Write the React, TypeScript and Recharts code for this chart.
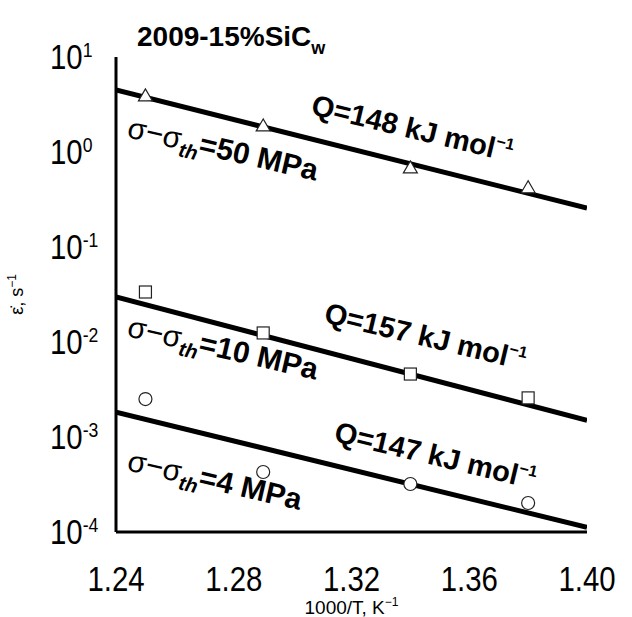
import React from 'react';
import { ComposedChart, Scatter, XAxis, YAxis, Customized } from 'recharts';

const FONT = '"Liberation Sans", Arial, Helvetica, sans-serif';
// Tick numerals use a horizontally condensed Helvetica-like face
const TICK_SQUEEZE = 0.84;

// Inverse temperature (1000/T, K^-1) of the measurements
const invTemp = [1.25, 1.29, 1.34, 1.38];
// Strain rate (s^-1) at each effective stress
const rate50 = [3.9, 1.88, 0.68, 0.42];
const rate10 = [0.0336, 0.01245, 0.0046, 0.00258];
const rate4 = [0.00251, 0.000428, 0.00032, 0.000202];

// Arrhenius fit lines (end points)
const fitX = [1.24, 1.4];
const fit50 = [4.5, 0.257];
const fit10 = [0.0298, 0.0015];
const fit4 = [0.00183, 0.000112];

// Activation energy annotations
const qValues = ['148', '157', '147'];
const qLabelX = [1.3059, 1.3103, 1.3137];
const qLabelY = [2.51, 0.01626, 0.000908];

// Effective stress annotations
const stressValues = ['50', '10', '4'];
const stressLabelX = [1.2434, 1.2434, 1.2434];
const stressLabelY = [1.44, 0.01156, 0.00045];

// Axis ticks
const xTicks = [1.24, 1.28, 1.32, 1.36, 1.4];
const xAllTicks = [1.24, 1.26, 1.28, 1.3, 1.32, 1.34, 1.36, 1.38, 1.4];
const yExponents = [-4, -3, -2, -1, 0, 1];
const yTicks = yExponents.map((e) => Math.pow(10, e));
const yMinorTicks: number[] = [];
yExponents.slice(0, -1).forEach((e) => {
  for (let m = 2; m <= 9; m++) yMinorTicks.push(m * Math.pow(10, e));
});

const toPoints = (xs: number[], ys: number[]) => xs.map((x, i) => ({ x, y: ys[i] }));

const pts50 = toPoints(invTemp, rate50);
const pts10 = toPoints(invTemp, rate10);
const pts4 = toPoints(invTemp, rate4);
const line50 = toPoints(fitX, fit50);
const line10 = toPoints(fitX, fit10);
const line4 = toPoints(fitX, fit4);
const qPoints = qValues.map((q, i) => ({ x: qLabelX[i], y: qLabelY[i], q }));
const stressPoints = stressValues.map((s, i) => ({ x: stressLabelX[i], y: stressLabelY[i], s }));

const MARK_STROKE = '#222';

const Triangle = (p: any) => (
  <polygon
    points={`${p.cx},${p.cy - 7} ${p.cx - 7},${p.cy + 5} ${p.cx + 7},${p.cy + 5}`}
    fill="#fff"
    stroke={MARK_STROKE}
    strokeWidth={1.2}
  />
);
const Square = (p: any) => (
  <rect x={p.cx - 6} y={p.cy - 6} width={12} height={12} fill="#fff" stroke={MARK_STROKE} strokeWidth={1.2} />
);
const Circle = (p: any) => <circle cx={p.cx} cy={p.cy} r={6.5} fill="#fff" stroke={MARK_STROKE} strokeWidth={1.2} />;
const NoMark = () => <g />;

const QLabel = (p: any) => (
  <text
    x={p.cx}
    y={p.cy}
    transform={`rotate(13.5 ${p.cx} ${p.cy})`}
    fontFamily={FONT}
    fontSize={29}
    fontWeight="bold"
    fill="#000"
  >
    Q={p.payload.q} kJ mol
    <tspan fontSize={16} dy={-12}>
      −1
    </tspan>
  </text>
);

const StressLabel = (p: any) => (
  <text
    x={p.cx}
    y={p.cy}
    transform={`rotate(13 ${p.cx} ${p.cy})`}
    fontFamily={FONT}
    fill="#000"
  >
    <tspan fontSize={30}>σ−σ</tspan>
    <tspan fontSize={20} fontWeight="bold" fontStyle="italic" dy={7}>
      th
    </tspan>
    <tspan fontSize={30} fontWeight="bold" dy={-7}>
      ={p.payload.s} MPa
    </tspan>
  </text>
);

const PowerTick = (p: any) => {
  const exp = Math.round(Math.log10(p.payload.value));
  return (
    <g transform={`translate(50 ${p.y + 12}) scale(${TICK_SQUEEZE} 1)`}>
      <text x={0} y={0} fontFamily={FONT} fontSize={35} fill="#000">
        10
        <tspan fontSize={21} dy={-12}>
          {exp}
        </tspan>
      </text>
    </g>
  );
};

const DecimalTick = (p: any) => (
  <g transform={`translate(${p.x} ${p.y + 25}) scale(${TICK_SQUEEZE} 1)`}>
    <text x={0} y={0} textAnchor="middle" fontFamily={FONT} fontSize={35} fill="#000">
      {Number(p.payload.value).toFixed(2)}
    </text>
  </g>
);

const XLabel = (p: any) => {
  const vb = p.viewBox;
  return (
    <text x={vb.x + vb.width / 2} y={vb.y + 82} textAnchor="middle" fontFamily={FONT} fontSize={19} fill="#000">
      1000/T, K
      <tspan fontSize={12} dy={-8}>
        −1
      </tspan>
    </text>
  );
};

const YLabel = (p: any) => {
  const vb = p.viewBox;
  const cx = 23;
  const cy = vb.y + vb.height / 2;
  return (
    <text
      x={cx}
      y={cy}
      transform={`rotate(-90 ${cx} ${cy})`}
      textAnchor="middle"
      fontFamily={FONT}
      fontSize={18}
      fill="#000"
    >
      ε̇, s
      <tspan fontSize={12} dy={-7}>
        −1
      </tspan>
    </text>
  );
};

const Title = () => (
  <text x={137} y={46} fontFamily={FONT} fontSize={28} fontWeight="bold" fill="#000">
    2009-15%SiC
    <tspan fontSize={18} dy={8}>
      w
    </tspan>
  </text>
);

const AXIS_LINE = { stroke: '#000', strokeWidth: 3 };
const TICK_LINE = { stroke: '#000', strokeWidth: 1.2 };

export default function App() {
  return (
    <div style={{ position: 'absolute', left: 0, top: 0, background: '#fff' }}>
      <ComposedChart width={632} height={617} margin={{ top: 57, right: 45, left: 0, bottom: 0 }}>
        <XAxis
          xAxisId="x"
          type="number"
          dataKey="x"
          domain={[1.24, 1.4]}
          allowDataOverflow
          ticks={xTicks}
          height={85}
          axisLine={AXIS_LINE}
          tickLine={false}
          tickMargin={28}
          tick={DecimalTick}
          label={{ content: XLabel }}
        />
        <XAxis
          xAxisId="xin"
          type="number"
          domain={[1.24, 1.4]}
          allowDataOverflow
          ticks={xAllTicks}
          orientation="bottom"
          mirror
          height={0}
          axisLine={false}
          tick={false}
          tickSize={9}
          tickLine={TICK_LINE}
        />
        <XAxis
          xAxisId="top"
          type="number"
          domain={[1.24, 1.4]}
          allowDataOverflow
          orientation="top"
          mirror
          height={0}
          axisLine={AXIS_LINE}
          tick={false}
          tickLine={false}
        />
        <YAxis
          yAxisId="y"
          type="number"
          dataKey="y"
          scale="log"
          domain={[1e-4, 10]}
          allowDataOverflow
          ticks={yTicks}
          width={116}
          axisLine={AXIS_LINE}
          tickLine={false}
          tick={PowerTick}
          label={{ content: YLabel }}
        />
        <YAxis
          yAxisId="ylmaj"
          type="number"
          scale="log"
          domain={[1e-4, 10]}
          allowDataOverflow
          ticks={yTicks}
          orientation="left"
          mirror
          width={0}
          axisLine={false}
          tick={false}
          tickSize={10}
          tickLine={TICK_LINE}
        />
        <YAxis
          yAxisId="ylmin"
          type="number"
          scale="log"
          domain={[1e-4, 10]}
          allowDataOverflow
          ticks={yMinorTicks}
          orientation="left"
          mirror
          width={0}
          axisLine={false}
          tick={false}
          tickSize={5}
          tickLine={TICK_LINE}
        />
        <YAxis
          yAxisId="yrmaj"
          type="number"
          scale="log"
          domain={[1e-4, 10]}
          allowDataOverflow
          ticks={yTicks}
          orientation="right"
          mirror
          width={0}
          axisLine={AXIS_LINE}
          tick={false}
          tickSize={10}
          tickLine={TICK_LINE}
        />
        <YAxis
          yAxisId="yrmin"
          type="number"
          scale="log"
          domain={[1e-4, 10]}
          allowDataOverflow
          ticks={yMinorTicks}
          orientation="right"
          mirror
          width={0}
          axisLine={false}
          tick={false}
          tickSize={5}
          tickLine={TICK_LINE}
        />

        <Scatter xAxisId="x" yAxisId="y" data={line50} line={{ stroke: '#000', strokeWidth: 5 }} shape={NoMark} isAnimationActive={false} />
        <Scatter xAxisId="x" yAxisId="y" data={line10} line={{ stroke: '#000', strokeWidth: 5 }} shape={NoMark} isAnimationActive={false} />
        <Scatter xAxisId="x" yAxisId="y" data={line4} line={{ stroke: '#000', strokeWidth: 5 }} shape={NoMark} isAnimationActive={false} />

        <Scatter xAxisId="x" yAxisId="y" data={pts50} shape={Triangle} isAnimationActive={false} />
        <Scatter xAxisId="x" yAxisId="y" data={pts10} shape={Square} isAnimationActive={false} />
        <Scatter xAxisId="x" yAxisId="y" data={pts4} shape={Circle} isAnimationActive={false} />

        <Scatter xAxisId="x" yAxisId="y" data={qPoints} shape={QLabel} isAnimationActive={false} />
        <Scatter xAxisId="x" yAxisId="y" data={stressPoints} shape={StressLabel} isAnimationActive={false} />

        <Customized component={Title} />
      </ComposedChart>
    </div>
  );
}
